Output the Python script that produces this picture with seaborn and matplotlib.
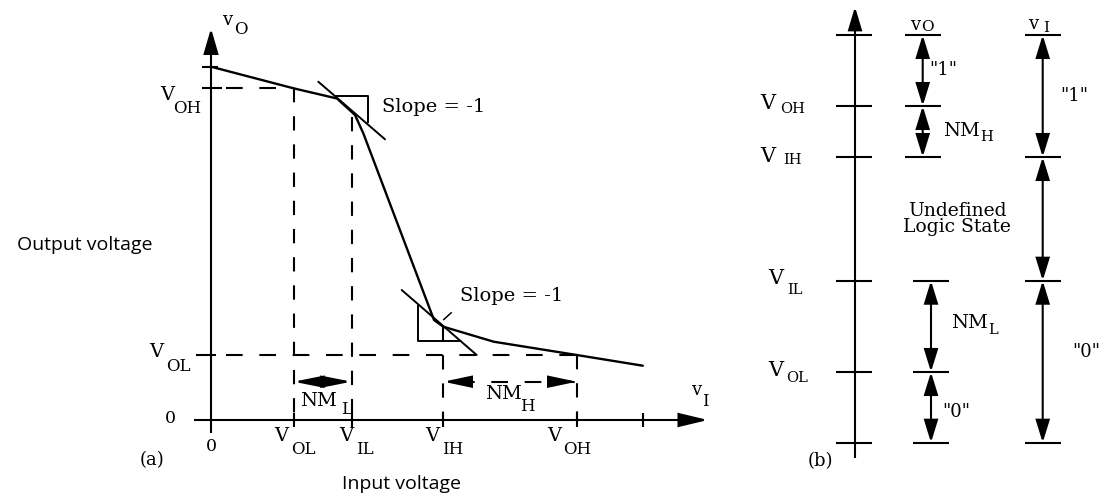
import matplotlib
matplotlib.use("Agg")
import matplotlib.pyplot as plt
from matplotlib.patches import FancyArrowPatch
import seaborn as sns

# ---------------- (a) voltage transfer characteristic ----------------
# v_O as a function of v_I (arbitrary units)
vin_curve = [0.000, 0.825, 1.260, 1.440, 1.523, 2.230, 2.323, 2.827, 3.657, 4.318]
vout_curve = [3.533, 3.317, 3.215, 3.050, 2.867, 1.000, 0.933, 0.783, 0.650, 0.543]

# critical points on the input axis: 0, V_OL, V_IL, V_IH, V_OH, last tick
vin_marks = [0.0, 0.825, 1.405, 2.323, 3.657, 4.318]
vin_names = [("0", ""), ("V", "OL"), ("V", "IL"), ("V", "IH"), ("V", "OH"), ("", "")]

# output levels
vout_ol = 0.650
vout_oh = 3.317
vout_max = 3.533
vout_at_vil = 3.030
vout_at_vih = 0.933

# unity-gain tangents and their slope triangles
tan_hi_x = [1.073, 1.740]
tan_hi_y = [3.383, 2.807]
tri_hi_x = [1.240, 1.573, 1.573]
tri_hi_y = [3.240, 3.240, 2.967]
tan_lo_x = [1.907, 2.657]
tan_lo_y = [1.300, 0.650]
tri_lo_x = [2.067, 2.067, 2.490]
tri_lo_y = [1.150, 0.790, 0.790]
leader_x = [2.323, 2.407]
leader_y = [1.000, 1.077]

# ---------------- (b) logic-level bands ----------------
level_names = ["bottom", "V_OL", "V_IL", "V_IH", "V_OH", "top"]
level_vals = [0.000, 0.707, 1.620, 2.857, 3.367, 4.077]

sns.set_theme(style="white")
plt.rcParams["font.family"] = ["DejaVu Serif"]
plt.rcParams["lines.scale_dashes"] = False

INK = "black"
LW = 1.5
DASH_H = (13.2, (12, 12))
DASH_V = (0, (10.3, 10))
BIG = 14
SUB_A = 12
BIG_B = 15
SUB_B = 10.5

fig = plt.figure(figsize=(11, 4.99), dpi=100)
ax = fig.add_axes([0, 0, 1, 1])
ax.set_xlim(-2.11, 8.89)
ax.set_ylim(-0.79, 4.20)
axb = fig.add_axes([0, 0, 1, 1])
axb.set_xlim(0, 11)
axb.set_ylim(-0.563, 4.427)
for a in (ax, axb):
    a.set_axis_off()


def arrow(a, p0, p1, style="<|-|>", hl=15, hw=4.3, lw=LW):
    a.add_patch(FancyArrowPatch(
        p0, p1, arrowstyle=f"{style},head_length={hl},head_width={hw}",
        mutation_scale=1, lw=lw, color=INK, shrinkA=0, shrinkB=0,
        joinstyle="miter", capstyle="butt"))


def say(a, xy, text, dx, dy, size=BIG, ha="center", va="center", family=None, **kw):
    if family:
        kw["fontfamily"] = family
    a.annotate(text, xy, xytext=(dx, dy), textcoords="offset pixels",
               ha=ha, va=va, fontsize=size, color=INK, **kw)


def seg(a, xs, ys, ls="-", lw=LW):
    a.plot(xs, ys, color=INK, lw=lw, ls=ls, solid_capstyle="butt",
           dash_capstyle="butt")


# ---- panel (a) ----
sns.lineplot(x=vin_curve, y=vout_curve, ax=ax, color=INK, lw=1.7,
             sort=False, estimator=None, legend=False)
sns.lineplot(x=tan_hi_x, y=tan_hi_y, ax=ax, color=INK, lw=1.4,
             sort=False, estimator=None, legend=False)
sns.lineplot(x=tan_lo_x, y=tan_lo_y, ax=ax, color=INK, lw=1.4,
             sort=False, estimator=None, legend=False)
seg(ax, tri_hi_x, tri_hi_y, lw=1.4)
seg(ax, tri_lo_x, tri_lo_y, lw=1.4)
seg(ax, leader_x, leader_y, lw=1.1)

# axes with arrowheads
vin_axis_end, vout_axis_end = 4.97, 3.917
seg(ax, [-0.17, vin_axis_end - 0.2], [0, 0])
arrow(ax, (vin_axis_end - 0.26, 0), (vin_axis_end, 0), style="-|>", hl=18, hw=4.3)
seg(ax, [0, 0], [-0.13, vout_axis_end - 0.2])
arrow(ax, (0, vout_axis_end - 0.23), (0, vout_axis_end), style="-|>", hl=15.8, hw=4.6)

# ticks
for xv in vin_marks[1:]:
    seg(ax, [xv, xv], [-0.07, 0.07])
seg(ax, [-0.15, 0.05], [vout_ol, vout_ol])
seg(ax, [-0.093, 0.107], [vout_oh, vout_oh])
seg(ax, [-0.093, 0.07], [vout_max, vout_max])

# dashed guides
seg(ax, [0, vin_marks[1]], [vout_oh, vout_oh], ls=DASH_H)
seg(ax, [0, vin_marks[4]], [vout_ol, vout_ol], ls=DASH_H)
seg(ax, [vin_marks[1]] * 2, [vout_oh, 0], ls=DASH_V)
seg(ax, [vin_marks[2]] * 2, [vout_at_vil, 0], ls=DASH_V)
seg(ax, [vin_marks[3]] * 2, [vout_at_vih, 0], ls=DASH_V)
seg(ax, [vin_marks[4]] * 2, [vout_ol, 0], ls=DASH_V)

# noise-margin arrows
nm_y = 0.383
arrow(ax, (vin_marks[1], nm_y), (vin_marks[2], nm_y), hl=18, hw=3.6)
seg(ax, [vin_marks[3], vin_marks[4]], [nm_y, nm_y], ls=DASH_H)
arrow(ax, (vin_marks[3] + 0.235, nm_y), (vin_marks[3], nm_y), style="-|>", hl=17, hw=3.6)
arrow(ax, (vin_marks[4] - 0.235, nm_y), (vin_marks[4], nm_y), style="-|>", hl=17, hw=3.6)

# input-axis labels
tick_dx = [(0, 0), (-12, 10), (-5.7, 13.5), (-10.8, 9.2), (-22.7, 0), (0, 0)]
for xv, (main, sub), (dm, ds) in zip(vin_marks, vin_names, tick_dx):
    if main == "0":
        say(ax, (xv, 0), "0", 0, -26.7, size=12.5)
    elif main:
        say(ax, (xv, 0), main, dm, -16)
        say(ax, (xv, 0), sub, ds, -30, size=SUB_A)

# output-axis labels
say(ax, (0, 0), "0", -41, 1.7, size=12.5)
say(ax, (0, vout_ol), "V", -55.2, 3)
say(ax, (0, vout_ol), "OL", -33, -11.7, size=SUB_A)
say(ax, (0, vout_oh), "V", -44, -6.7)
say(ax, (0, vout_oh), "OH", -24.3, -20, size=SUB_A)
say(ax, (0, vout_axis_end), "v", 16, 8.3, size=13)
say(ax, (0, vout_axis_end), "O", 29.7, -0.7, size=SUB_A)
say(ax, (vin_axis_end, 0), "v", -12, 30, size=13)
say(ax, (vin_axis_end, 0), "I", -3, 19, size=SUB_A)

# annotations
say(ax, (tri_hi_x[1], tri_hi_y[1]), "Slope = -1", 13.4, -11.5, ha="left")
say(ax, (leader_x[1], leader_y[1]), "Slope = -1", 8.7, 16.5, ha="left")
nm_l_mid = (vin_marks[1] + vin_marks[2]) / 2
nm_h_mid = (vin_marks[3] + vin_marks[4]) / 2
say(ax, (nm_l_mid, nm_y), "NM", -4.1, -18.8)
say(ax, (nm_l_mid, nm_y), "L", 23.6, -27.3, size=SUB_A)
say(ax, (nm_h_mid, nm_y), "NM", -6.6, -12.3)
say(ax, (nm_h_mid, nm_y), "H", 17.5, -25, size=SUB_A)
say(ax, (0, 0), "(a)", -59.3, -40, size=13)
say(ax, (0, 1.75), "Output voltage", -126, 0, size=14, family="Open Sans")
say(ax, (1.90, 0), "Input voltage", 0, -64, size=14, family="Open Sans")

# ---- panel (b) ----
lv = dict(zip(level_names, level_vals))
x_main, x_vo_hi, x_vo_lo, x_vi = 8.55, 9.227, 9.31, 10.427
half = 0.18

seg(axb, [x_main, x_main], [-0.153, 4.2])
arrow(axb, (x_main, 4.14), (x_main, 4.36), style="-|>", hl=14.4, hw=4.3)
for name in level_names:
    seg(axb, [x_main - 0.19, x_main + 0.17], [lv[name]] * 2)

col_hi = ["V_IH", "V_OH", "top"]
col_lo = ["bottom", "V_OL", "V_IL"]
col_vi = ["bottom", "V_IL", "V_IH", "top"]
for xc, names in ((x_vo_hi, col_hi), (x_vo_lo, col_lo), (x_vi, col_vi)):
    for name in names:
        seg(axb, [xc - half, xc + half], [lv[name]] * 2)
    for lo, hi in zip(names[:-1], names[1:]):
        arrow(axb, (xc, lv[lo]), (xc, lv[hi]), hl=14, hw=4.3)

# level names on the left of the main axis
left = x_main - 0.19
say(axb, (left, lv["V_OH"]), "V", -68, 2, size=BIG_B)
say(axb, (left, lv["V_OH"]), "OH", -43, -3, size=SUB_B)
say(axb, (left, lv["V_IH"]), "V", -68, 0, size=BIG_B)
say(axb, (left, lv["V_IH"]), "IH", -44, -3, size=SUB_B)
say(axb, (left, lv["V_IL"]), "V", -60, 1.7, size=BIG_B)
say(axb, (left, lv["V_IL"]), "IL", -41, -9.3, size=SUB_B)
say(axb, (left, lv["V_OL"]), "V", -60, 1, size=BIG_B)
say(axb, (left, lv["V_OL"]), "OL", -38.5, -6, size=SUB_B)
say(axb, (x_main, -0.153), "(b)", -35, -2.7, size=13)

# column headers
say(axb, (x_vo_hi, lv["top"]), "v", -7.5, 9.5, size=13)
say(axb, (x_vo_hi, lv["top"]), "O", 4.5, 7.5, size=11)
say(axb, (x_vi, lv["top"]), "v", -9.5, 11, size=13)
say(axb, (x_vi, lv["top"]), "I", 3.3, 6.5, size=11)


def mid(a, b):
    return (lv[a] + lv[b]) / 2


# band names
say(axb, (x_vo_hi, mid("V_OH", "top")), '"1"', 20.3, 0, size=13)
say(axb, (x_vo_hi, mid("V_IH", "V_OH")), "NM", 38.3, 0)
say(axb, (x_vo_hi, mid("V_IH", "V_OH")), "H", 64, -5.5, size=SUB_B)
say(axb, (x_vi, mid("V_IH", "top")), '"1"', 31.3, 0, size=13)
say(axb, (x_vi, mid("V_IL", "V_IH")), "Undefined\nLogic State", -85.7, 0,
    size=13.5, linespacing=0.85, multialignment="center")
say(axb, (x_vo_lo, mid("V_OL", "V_IL")), "NM", 38.5, 3.3)
say(axb, (x_vo_lo, mid("V_OL", "V_IL")), "L", 62, -3.7, size=SUB_B)
say(axb, (x_vo_lo, mid("bottom", "V_OL")), '"0"', 25.7, -4.3, size=13)
say(axb, (x_vi, mid("bottom", "V_IL")), '"0"', 43.3, 10, size=13)

fig.savefig("out.png", dpi=100, facecolor="white")
